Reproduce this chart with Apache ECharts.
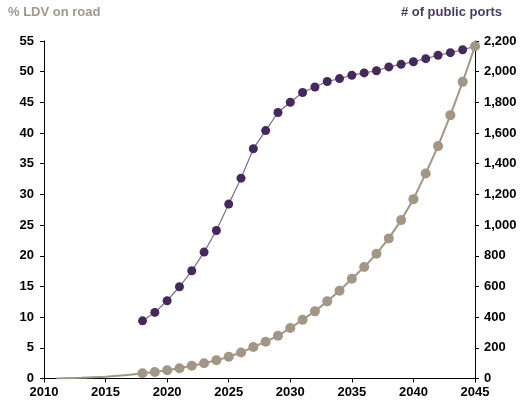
<!DOCTYPE html>
<html>
<head>
<meta charset="utf-8">
<script src="https://cdn.jsdelivr.net/npm/echarts@6/dist/echarts.min.js"></script>
<style>
  html, body { margin: 0; padding: 0; background: #fff; }
  #chart { width: 524px; height: 406px; }
</style>
</head>
<body>
<div id="chart"></div>
<script>
// Public charging ports (right axis), yearly from 2018
const portYears = [2018, 2019, 2020, 2021, 2022, 2023, 2024, 2025, 2026, 2027, 2028, 2029, 2030, 2031, 2032,
  2033, 2034, 2035, 2036, 2037, 2038, 2039, 2040, 2041, 2042, 2043, 2044, 2045];
const ports = [376, 431, 507, 598, 702, 824, 965, 1137, 1306, 1498, 1616, 1734, 1801, 1864, 1900,
  1936, 1955, 1977, 1992, 2006, 2031, 2048, 2065, 2085, 2107, 2124, 2143, 2165];

// Share of light-duty vehicles on the road (left axis, %)
const ldvHistYears = [2011, 2013, 2015, 2017];
const ldvHist = [0.0, 0.12, 0.3, 0.6];
const ldvYears = [2018, 2019, 2020, 2021, 2022, 2023, 2024, 2025, 2026, 2027, 2028, 2029, 2030, 2031, 2032,
  2033, 2034, 2035, 2036, 2037, 2038, 2039, 2040, 2041, 2042, 2043, 2044, 2045];
const ldvShare = [0.85, 1.06, 1.34, 1.68, 2.08, 2.48, 2.96, 3.55, 4.23, 5.13, 6.0, 6.97, 8.22, 9.58, 10.94,
  12.57, 14.3, 16.25, 18.16, 20.33, 22.83, 25.81, 29.23, 33.42, 37.87, 42.92, 48.34, 54.15];

const leftTitle = '% LDV on road';
const rightTitle = '# of public ports';

const purple = '#45295e';
const purpleLine = '#7d6b95';
const taupe = '#a39684';

const ldvData = ldvHistYears.map((y, i) => ({ value: [y, ldvHist[i]], symbol: 'none' }))
  .concat(ldvYears.map((y, i) => [y, ldvShare[i]]));
const portData = portYears.map((y, i) => [y, ports[i]]);

const labelFont = { fontFamily: 'Liberation Sans, Arial, sans-serif', fontSize: 13, fontWeight: 'bold', color: '#000' };

const chart = echarts.init(document.getElementById('chart'), null, { renderer: 'canvas' });
chart.setOption({
  animation: false,
  backgroundColor: '#fff',
  grid: { left: 44, right: 49, top: 41, bottom: 27.5, containLabel: false },
  graphic: [
    { type: 'text', left: 8, top: 6, style: { text: leftTitle, fill: '#a0978b', font: 'bold 13px "Liberation Sans", Arial, sans-serif' } },
    { type: 'text', right: 22, top: 6, style: { text: rightTitle, fill: '#4b3a63', font: 'bold 13px "Liberation Sans", Arial, sans-serif' } }
  ],
  xAxis: {
    type: 'value', min: 2010, max: 2045, interval: 5,
    axisLine: { show: true, onZero: false, lineStyle: { color: '#000', width: 1 } },
    axisTick: { show: true, length: 4, lineStyle: { color: '#000' } },
    axisLabel: Object.assign({ margin: 7, formatter: v => String(v) }, labelFont),
    splitLine: { show: false }
  },
  yAxis: [
    {
      type: 'value', min: 0, max: 55, interval: 5, position: 'left',
      axisLine: { show: true, lineStyle: { color: '#000', width: 1 } },
      axisTick: { show: true, length: 4, lineStyle: { color: '#000' } },
      axisLabel: Object.assign({ margin: 10 }, labelFont),
      splitLine: { show: false }
    },
    {
      type: 'value', min: 0, max: 2200, interval: 200, position: 'right',
      axisLine: { show: true, lineStyle: { color: '#000', width: 1 } },
      axisTick: { show: true, length: 4, lineStyle: { color: '#000' } },
      axisLabel: Object.assign({ margin: 9, formatter: v => v.toLocaleString('en-US') }, labelFont),
      splitLine: { show: false }
    }
  ],
  series: [
    {
      name: rightTitle, type: 'line', yAxisIndex: 1, data: portData,
      symbol: 'circle', symbolSize: 9, z: 2,
      lineStyle: { color: purpleLine, width: 1.2 },
      itemStyle: { color: purple }
    },
    {
      name: leftTitle, type: 'line', yAxisIndex: 0, data: ldvData,
      symbol: 'circle', symbolSize: 10, z: 3,
      lineStyle: { color: taupe, width: 2 },
      itemStyle: { color: taupe }
    }
  ]
});
</script>
</body>
</html>
